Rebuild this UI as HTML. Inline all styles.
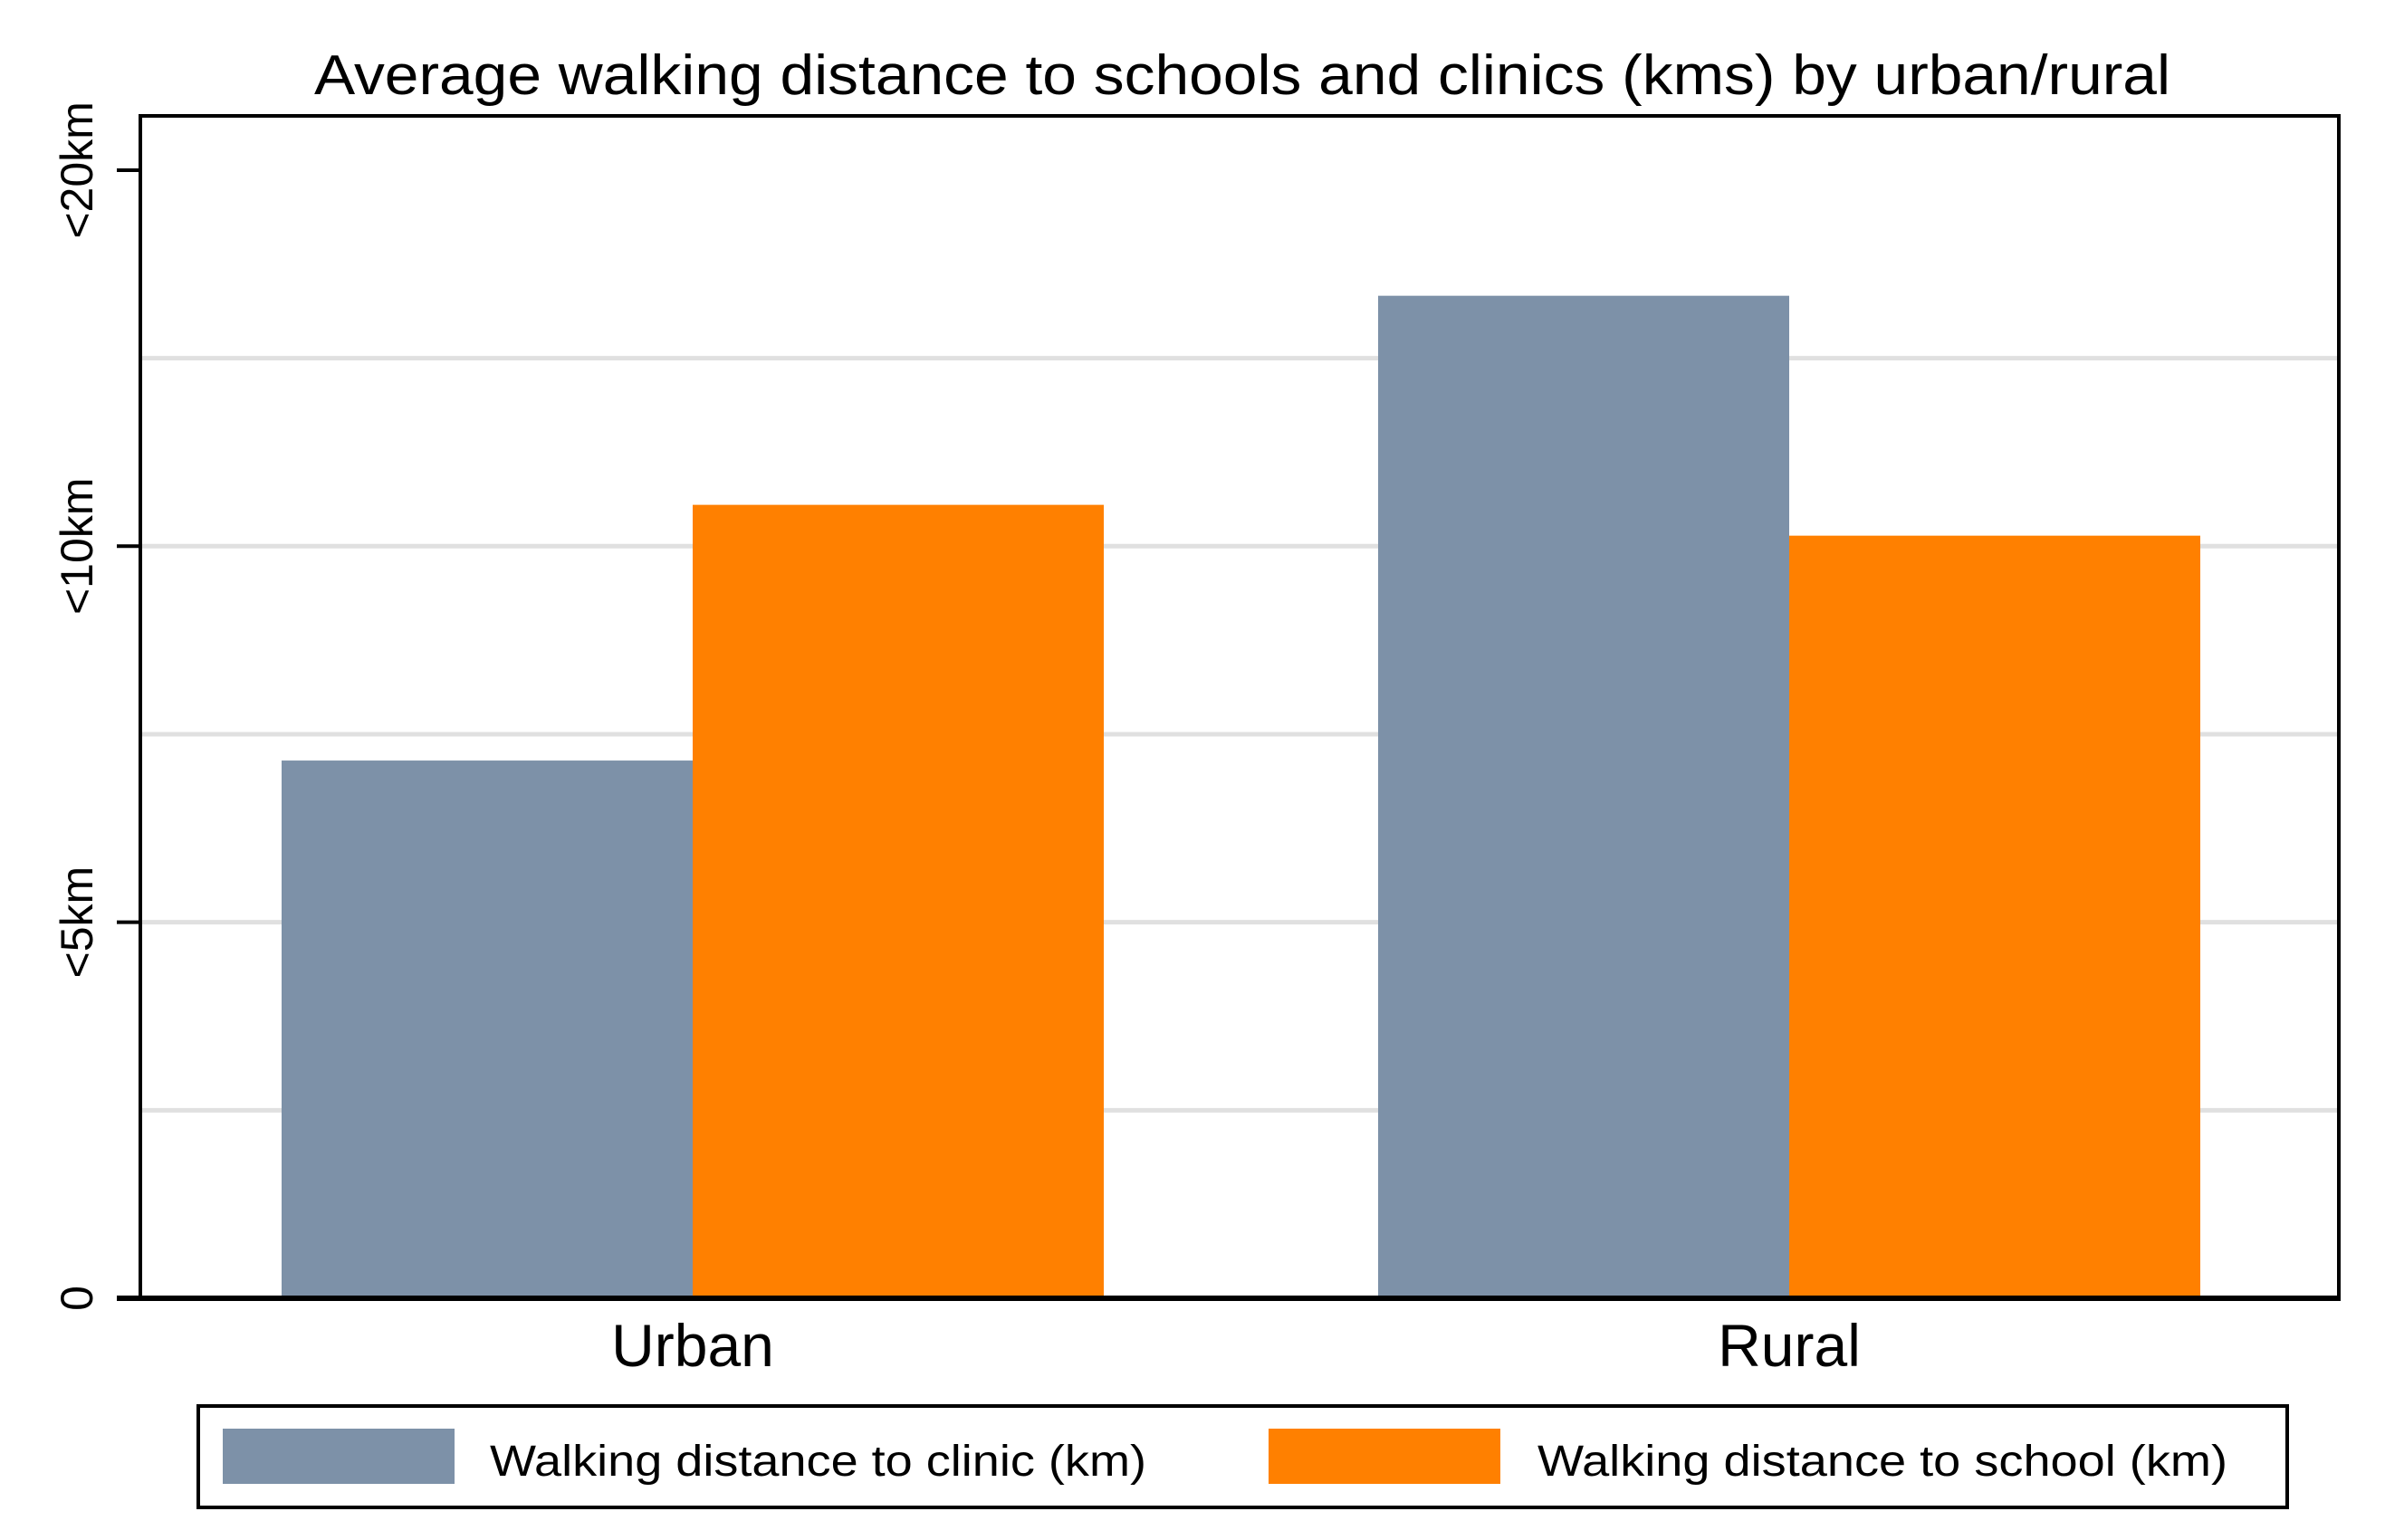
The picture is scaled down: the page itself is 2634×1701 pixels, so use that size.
<!DOCTYPE html>
<html><head><meta charset="utf-8"><style>html,body{margin:0;padding:0;background:#fff}svg{display:block}text{font-family:"Liberation Sans",sans-serif;fill:#000}</style></head>
<body>
<svg id="chart" width="2634" height="1701" viewBox="0 0 2634 1701">
<text x="1372" y="104" font-size="62" text-anchor="middle" textLength="2050" lengthAdjust="spacingAndGlyphs">Average walking distance to schools and clinics (kms) by urban/rural</text>
<g id="grid"></g>
<g id="bars"></g>
<g id="axes"></g>
<g>
<rect x="219" y="1553" width="2307" height="112" fill="none" stroke="#000" stroke-width="4"/>
<rect x="246" y="1578" width="256" height="61" fill="#7d91a8"/>
<text x="541" y="1630" font-size="48" textLength="725" lengthAdjust="spacingAndGlyphs">Walking distance to clinic (km)</text>
<rect x="1401" y="1578" width="256" height="61" fill="#ff8000"/>
<text x="1698" y="1630" font-size="48" textLength="762" lengthAdjust="spacingAndGlyphs">Walking distance to school (km)</text>
</g>
</svg>
<script>
const categories = ["Urban", "Rural"];
const clinicValues = [7.15, 13.33];
const schoolValues = [10.55, 10.14];
const tickValues = [0, 5, 10, 15];
const tickLabels = ["0", "<5km", "<10km", "<20km"];
const gridValues = [2.5, 5, 7.5, 10, 12.5];

const NS = "http://www.w3.org/2000/svg";
const L = 155, R = 2583, T = 128, B = 1434;
const yMin = 0, pxPerUnit = 83.07;
function y(v){ return B - (v - yMin) * pxPerUnit; }
const groupCenters = [765, 1976];
function xc(i){ return groupCenters[0] + i * (groupCenters[1] - groupCenters[0]); }
const barW = 454;
function mk(tag, attrs, parent){ const e = document.createElementNS(NS, tag); for (const k in attrs) e.setAttribute(k, attrs[k]); parent.appendChild(e); return e; }

const grid = document.getElementById('grid');
gridValues.forEach(v => {
  const g = mk('line', {x1: L, x2: R, y1: y(v), y2: y(v), stroke: '#e0e0e0', 'stroke-width': 5}, grid);
  
  
});

const bars = document.getElementById('bars');
categories.forEach((c, i) => {
  const cx = xc(i);
  const b1 = mk('rect', {x: cx - barW, y: y(clinicValues[i]), width: barW, height: y(0) - y(clinicValues[i]), fill: '#7d91a8'}, bars);
  
  
  const b2 = mk('rect', {x: cx, y: y(schoolValues[i]), width: barW, height: y(0) - y(schoolValues[i]), fill: '#ff8000'}, bars);
  
  
  const t = mk('text', {x: cx, y: 1509, 'font-size': 66, 'text-anchor': 'middle'}, bars);
  t.textContent = c;
  
  
});

const axes = document.getElementById('axes');
const frame = mk('rect', {x: L, y: T, width: R - L, height: B - T, fill: 'none', stroke: '#000', 'stroke-width': 4}, axes);


const xaxis = mk('line', {x1: L - 26, x2: R + 2, y1: B, y2: B, stroke: '#000', 'stroke-width': 6}, axes);


tickValues.forEach((v, i) => {
  const tk = mk('line', {x1: L - 26, x2: L, y1: y(v), y2: y(v), stroke: '#000', 'stroke-width': 4}, axes);
  
  
  const t = mk('text', {x: 0, y: 0, 'font-size': 50, 'text-anchor': 'middle', transform: 'translate(102,' + y(v) + ') rotate(-90)'}, axes);
  t.textContent = tickLabels[i];
  
  
});
</script>
</body></html>
